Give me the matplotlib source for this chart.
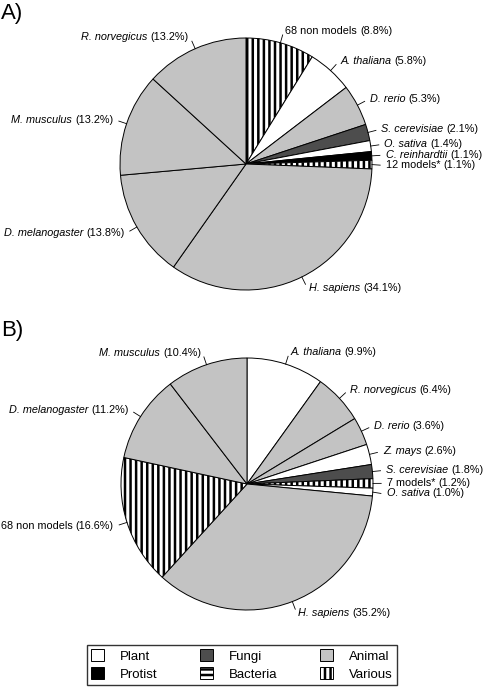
import numpy as np
import matplotlib
matplotlib.use("Agg")
from matplotlib import pyplot
from matplotlib.patches import Patch

pyplot.rcParams["font.family"] = ["Liberation Sans", "DejaVu Sans"]
pyplot.rcParams["hatch.linewidth"] = 1.8
pyplot.rcParams["hatch.color"] = "black"

# panel A
names_a = ["68 non models", "A. thaliana", "D. rerio", "S. cerevisiae", "O. sativa",
           "C. reinhardtii", "12 models*", "H. sapiens", "D. melanogaster",
           "M. musculus", "R. norvegicus"]
pct_a = [8.8, 5.8, 5.3, 2.1, 1.4, 1.1, 1.1, 34.1, 13.8, 13.2, 13.2]
kind_a = ["Various", "Plant", "Animal", "Fungi", "Plant", "Protist", "Various",
          "Animal", "Animal", "Animal", "Animal"]

# panel B
names_b = ["A. thaliana", "R. norvegicus", "D. rerio", "Z. mays", "S. cerevisiae",
           "7 models*", "O. sativa", "H. sapiens", "68 non models",
           "D. melanogaster", "M. musculus"]
pct_b = [9.9, 6.4, 3.6, 2.6, 1.8, 1.2, 1.0, 35.2, 16.6, 11.2, 10.4]
kind_b = ["Plant", "Animal", "Animal", "Plant", "Fungi", "Various", "Plant",
          "Animal", "Various", "Animal", "Animal"]

legend_order = ["Plant", "Protist", "Fungi", "Bacteria", "Animal", "Various"]

STYLE = {
    "Plant": ("white", None),
    "Protist": ("black", None),
    "Fungi": ("#4d4d4d", None),
    "Bacteria": ("white", "---"),
    "Animal": ("#c3c3c3", None),
    "Various": ("white", "|||"),
}

W, H = 484, 694
R = 126.0
FS = 7.8
GAP = 2.2  # points between name and percentage


def put_label(axis, x, y, name, pct, right_side):
    pct_str = f"({pct}%)"
    italic = "models" not in name
    if right_side:
        t1 = axis.text(x, y, name, ha="left", va="center", fontsize=FS,
                       style="italic" if italic else "normal")
        axis.annotate(pct_str, xy=(1, 0.5), xycoords=t1, xytext=(GAP, 0),
                      textcoords="offset points", ha="left", va="center", fontsize=FS)
    else:
        t2 = axis.text(x, y, pct_str, ha="right", va="center", fontsize=FS)
        axis.annotate(name, xy=(0, 0.5), xycoords=t2, xytext=(-GAP, 0),
                      textcoords="offset points", ha="right", va="center",
                      fontsize=FS, style="italic" if italic else "normal")


def draw_pie(axis, names, pct, kinds):
    wedges, _ = axis.pie(pct, startangle=90, counterclock=False, radius=1.0,
                         colors=[STYLE[k][0] for k in kinds],
                         wedgeprops=dict(edgecolor="black", linewidth=0.7))
    for w, k in zip(wedges, kinds):
        if STYLE[k][1]:
            w.set_hatch(STYLE[k][1])
    mids = [np.deg2rad((w.theta1 + w.theta2) / 2) for w in wedges]
    ys = [1.1 * np.sin(t) for t in mids]
    # spread crowded labels on the right side
    right = sorted([i for i, t in enumerate(mids) if np.cos(t) > 0],
                   key=lambda i: -ys[i])
    for a, b in zip(right, right[1:]):
        if ys[a] - ys[b] < 0.08:
            ys[b] = ys[a] - 0.08
    for name, p, t, y in zip(names, pct, mids, ys):
        c, s = np.cos(t), np.sin(t)
        x_end = 1.065 * c
        y_end = 1.065 * s if abs(y - 1.1 * s) < 1e-6 else y
        axis.plot([c, x_end], [s, y_end], color="black", lw=0.6)
        put_label(axis, 1.1 * c + (0.01 if c > 0 else -0.01), y, name, p, c > 0)


def make_axes(figure, top_px, bottom_px, cx, cy):
    axis = figure.add_axes([0, 1 - bottom_px / H, 1, (bottom_px - top_px) / H])
    return axis, (-cx / R, (W - cx) / R), (-(bottom_px - cy) / R, (cy - top_px) / R)


figure = pyplot.figure(figsize=(W / 100, H / 100), dpi=100)
figure.set_facecolor("white")

for (top, bottom, cx, cy), data in [((0, 312, 246, 164), (names_a, pct_a, kind_a)),
                                    ((312, 640, 247, 484), (names_b, pct_b, kind_b))]:
    axis, xl, yl = make_axes(figure, top, bottom, cx, cy)
    draw_pie(axis, *data)
    axis.set_xlim(xl)
    axis.set_ylim(yl)
    axis.set_aspect("auto")
    axis.axis("off")

figure.text(0.002, 0.995, "A)", fontsize=16, va="top", ha="left")
figure.text(0.002, 1 - 320 / H, "B)", fontsize=16, va="top", ha="left")

handles = [Patch(facecolor=STYLE[k][0], hatch=STYLE[k][1], edgecolor="black",
                 linewidth=0.7) for k in legend_order]
legend = figure.legend(handles, legend_order, ncol=3, loc="lower center",
                       bbox_to_anchor=(0.5, 0.003), fontsize=9.5, frameon=True,
                       fancybox=False, edgecolor="black", handlelength=1.0,
                       handleheight=1.0, columnspacing=3.2, handletextpad=1.2,
                       labelspacing=0.35, borderpad=0.35)
legend.get_frame().set_linewidth(1.0)

figure.savefig("out.png", dpi=100)
